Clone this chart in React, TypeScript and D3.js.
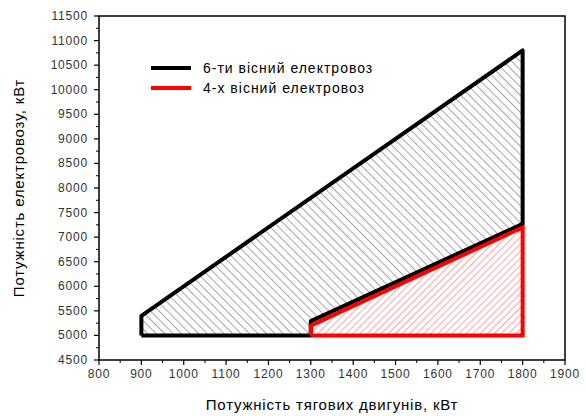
import React from "react";
import * as d3 from "d3";

const sixAxle: [number, number][] = [
  [900, 5000], [900, 5400], [1800, 10800], [1800, 7270], [1300, 5290], [1300, 5000], [900, 5000],
];
const fourAxle: [number, number][] = [
  [1300, 5000], [1300, 5200], [1800, 7200], [1800, 5000], [1300, 5000],
];
const xTicks = [800, 900, 1000, 1100, 1200, 1300, 1400, 1500, 1600, 1700, 1800, 1900];
const yTicks = [4500, 5000, 5500, 6000, 6500, 7000, 7500, 8000, 8500, 9000, 9500, 10000, 10500, 11000, 11500];
const legendLabels = ["6-ти вісний електровоз", "4-х вісний електровоз"];
const xTitle = "Потужність тягових двигунів, кВт";
const yTitle = "Потужність електровозу, кВт";

export default function App() {
  const W = 586, H = 416;
  const L = 99, R = 565, T = 16, B = 360;
  const x = d3.scaleLinear().domain([800, 1900]).range([L, R]);
  const y = d3.scaleLinear().domain([4500, 11500]).range([B, T]);
  const line = d3.line<[number, number]>().x(d => x(d[0])).y(d => y(d[1]));
  const xMinor = d3.range(850, 1900, 100);
  const yMinor = d3.range(4750, 11500, 500);
  const font = "Arial, 'Liberation Sans', sans-serif";
  return (
    <svg width={W} height={H} style={{ position: "absolute", left: 0, top: 0, background: "#fff" }}>
      <defs>
        <pattern id="hatchBlack" width="6" height="6" patternUnits="userSpaceOnUse" patternTransform="rotate(-45)">
          <line x1="0" y1="0" x2="0" y2="6" stroke="#222" strokeWidth="0.8" />
        </pattern>
        <pattern id="hatchRed" width="5" height="5" patternUnits="userSpaceOnUse" patternTransform="rotate(45)">
          <line x1="0" y1="0" x2="0" y2="5" stroke="#ff2020" strokeWidth="0.8" />
        </pattern>
      </defs>
      <rect x={0} y={0} width={W} height={H} fill="#fff" />
      <path d={line(sixAxle) || ""} fill="url(#hatchBlack)" stroke="none" />
      <path d={line(fourAxle) || ""} fill="url(#hatchRed)" stroke="none" />
      <path d={line(sixAxle) || ""} fill="none" stroke="#000" strokeWidth={4} strokeLinejoin="round" />
      <path d={line(fourAxle) || ""} fill="none" stroke="#ff0000" strokeWidth={4} strokeLinejoin="miter" />
      {/* frame */}
      <rect x={L} y={T} width={R - L} height={B - T} fill="none" stroke="#000" strokeWidth={1.5} />
      {/* x ticks */}
      {xTicks.map(t => (
        <g key={"x" + t}>
          <line x1={x(t)} x2={x(t)} y1={B} y2={B + 5} stroke="#000" strokeWidth={1.2} />
          <text x={x(t)} y={B + 18} textAnchor="middle" fontFamily={font} fontSize={12} letterSpacing={0.8} fill="#333">{t}</text>
        </g>
      ))}
      {xMinor.map(t => (
        <line key={"xm" + t} x1={x(t)} x2={x(t)} y1={B} y2={B + 3} stroke="#000" strokeWidth={1} />
      ))}
      {yTicks.map(t => (
        <g key={"y" + t}>
          <line x1={L - 5} x2={L} y1={y(t)} y2={y(t)} stroke="#000" strokeWidth={1.2} />
          <text x={L - 11} y={y(t) + 4} textAnchor="end" fontFamily={font} fontSize={12} letterSpacing={0.8} fill="#333">{t}</text>
        </g>
      ))}
      {yMinor.map(t => (
        <line key={"ym" + t} x1={L - 3} x2={L} y1={y(t)} y2={y(t)} stroke="#000" strokeWidth={1} />
      ))}
      {/* legend */}
      {legendLabels.map((lab, i) => (
        <g key={lab}>
          <line x1={151} x2={191} y1={68 + i * 20} y2={68 + i * 20} stroke={i === 0 ? "#000" : "#ff0000"} strokeWidth={4} />
          <text x={203} y={73 + i * 20} fontFamily={font} fontSize={14} letterSpacing={1} fill="#000">{lab}</text>
        </g>
      ))}
      <text x={(L + R) / 2} y={410} textAnchor="middle" fontFamily={font} fontSize={15} letterSpacing={0.8} fill="#000">{xTitle}</text>
      <text transform={`translate(24, ${(T + B) / 2}) rotate(-90)`} textAnchor="middle" fontFamily={font} fontSize={15} letterSpacing={0.8} fill="#000">{yTitle}</text>
    </svg>
  );
}
